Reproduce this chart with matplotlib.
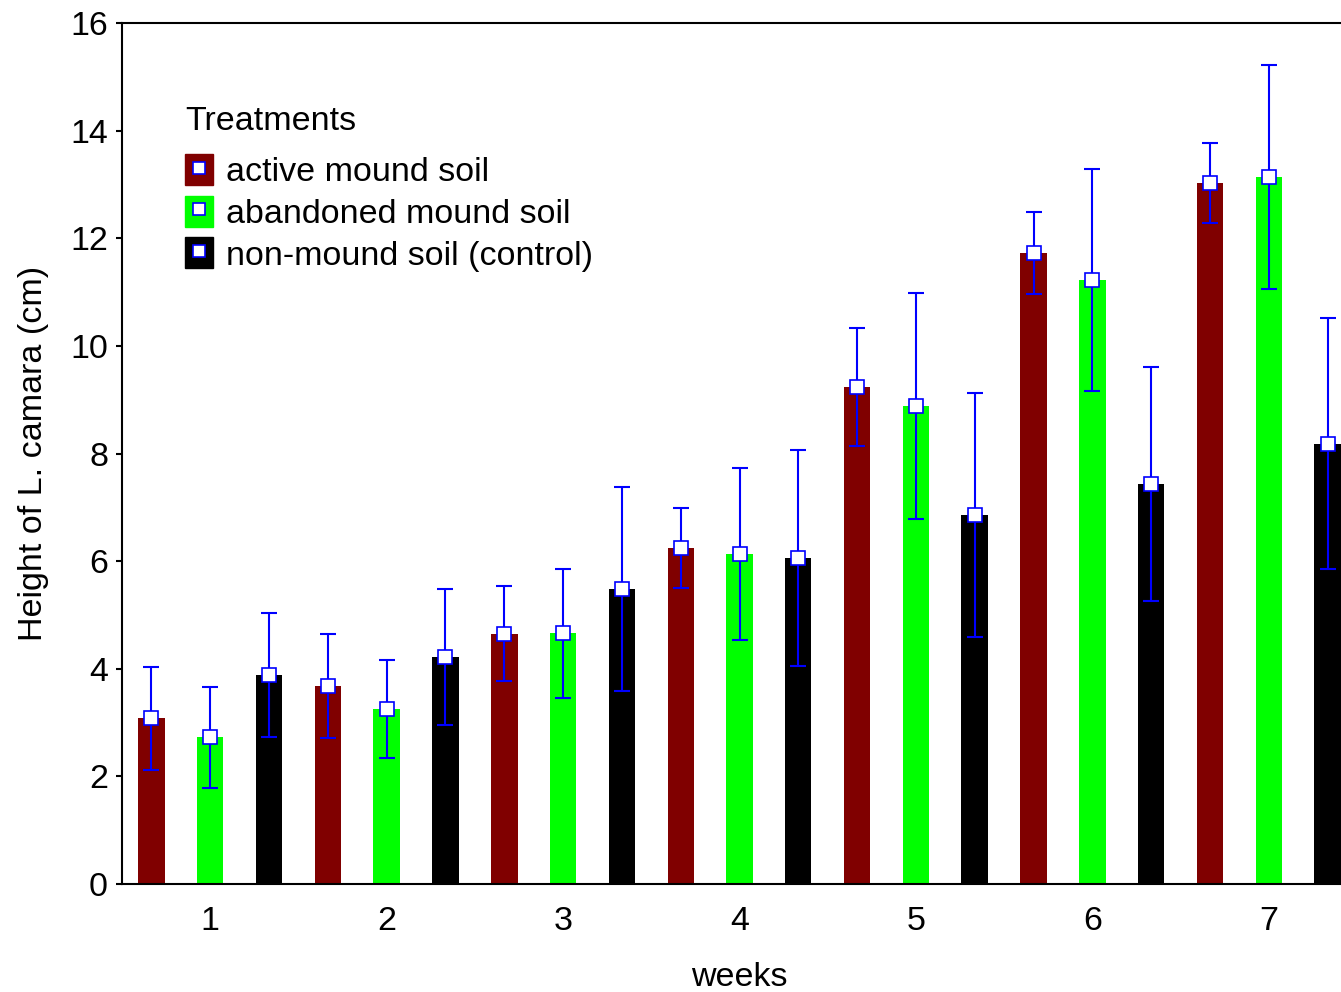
import matplotlib
matplotlib.use("Agg")
import matplotlib.pyplot as plt
import numpy as np
from matplotlib.patches import Patch
from matplotlib.lines import Line2D

weeks = [1, 2, 3, 4, 5, 6, 7]
treatments = ["active mound soil", "abandoned mound soil", "non-mound soil (control)"]

active_mean = [3.08, 3.68, 4.65, 6.24, 9.24, 11.73, 13.03]
active_err = [0.96, 0.96, 0.88, 0.74, 1.10, 0.76, 0.74]

abandoned_mean = [2.73, 3.25, 4.66, 6.13, 8.88, 11.22, 13.14]
abandoned_err = [0.94, 0.91, 1.20, 1.60, 2.10, 2.06, 2.08]

control_mean = [3.88, 4.22, 5.48, 6.06, 6.86, 7.43, 8.18]
control_err = [1.15, 1.26, 1.89, 2.01, 2.27, 2.17, 2.33]

colors = ["#800000", "#00ff00", "#000000"]

plt.rcParams["font.family"] = ["Liberation Sans", "DejaVu Sans"]
FS = 24.5

fig = plt.figure(figsize=(13.41, 9.92), dpi=100)
# right edge of the axes runs past the figure border
ax = fig.add_axes([122 / 1341, 108 / 992, 1235 / 1341, 861 / 992])

x = np.array(weeks, dtype=float)
offsets = [-0.333, 0.0, 0.333]
width = 0.15
means = [active_mean, abandoned_mean, control_mean]
errs = [active_err, abandoned_err, control_err]

for off, m, e, c in zip(offsets, means, errs, colors):
    ax.bar(x + off, m, width=width, color=c, zorder=2)
    ax.errorbar(x + off, m, yerr=e, fmt="none", ecolor="#0000ff",
                elinewidth=1.5, capsize=6, capthick=1.5, zorder=3)
    ax.plot(x + off, m, linestyle="none", marker="s", markersize=9.5,
            markerfacecolor="white", markeredgecolor="#0000ff",
            markeredgewidth=1.2, zorder=4)

ax.set_xlim(0.5, 7.5)
ax.set_ylim(0, 16)
ax.set_yticks(np.arange(0, 17, 2))
ax.set_xticks(weeks)
ax.set_xticklabels([str(w) for w in weeks])
ax.tick_params(axis="y", direction="out", length=4, width=1.5, labelsize=FS, pad=6)
ax.tick_params(axis="x", direction="in", length=5, width=1.5, labelsize=FS, pad=15.5)

for s in ["left", "top", "bottom", "right"]:
    ax.spines[s].set_linewidth(1.5)

ax.set_xlabel("weeks", fontsize=FS, labelpad=18)
ax.set_ylabel("Height of L. camara (cm)", fontsize=FS, labelpad=15)

# legend heading, placed on its own so it sits further above the entries
legend_x = (185 - 122) / 1235
ax.text(legend_x, (884 - 121) / 861, "Treatments", transform=ax.transAxes,
        fontsize=FS, ha="left", va="center")

handles = []
for c in colors:
    handles.append((Patch(facecolor=c, edgecolor=c),
                    Line2D([], [], linestyle="none", marker="s", markersize=8,
                           markerfacecolor="white", markeredgecolor="#0000ff",
                           markeredgewidth=1.2)))
leg = ax.legend(handles, treatments, loc="upper left",
                bbox_to_anchor=(legend_x, (884 - 154) / 861),
                frameon=False, fontsize=FS,
                handlelength=0.82, handleheight=1.03, handletextpad=0.38,
                labelspacing=0.22, borderpad=0, borderaxespad=0)

fig.savefig("out.png", dpi=100)
